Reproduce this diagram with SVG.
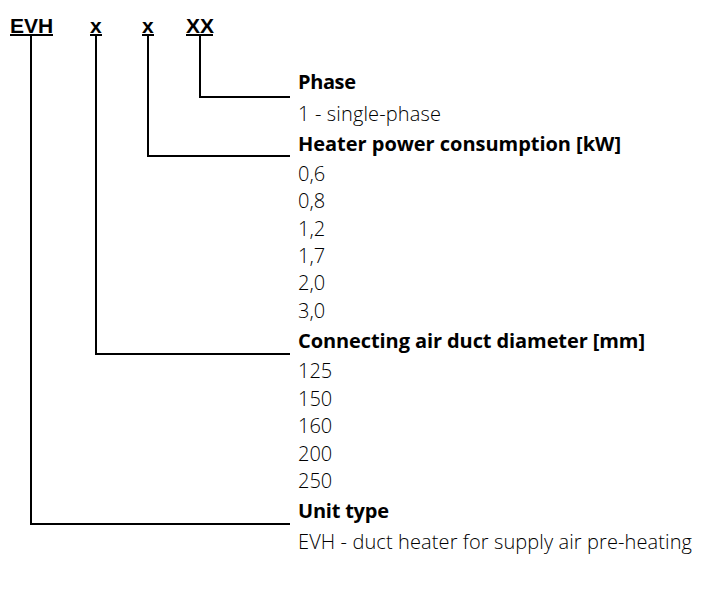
<svg xmlns="http://www.w3.org/2000/svg" width="703" height="589" viewBox="0 0 703 589">
<style>
.code{font-family:"Liberation Sans",Arial,sans-serif;font-weight:bold;font-size:21px;fill:#000}
.h{font-family:"Open Sans","Noto Sans",sans-serif;font-weight:700;font-size:20px;fill:#000}
.v{font-family:"Open Sans","Noto Sans",sans-serif;font-weight:300;font-size:20px;fill:#000}
.ln{fill:none;stroke:#000;stroke-width:2}
</style>
<rect width="703" height="589" fill="#fff"/>
<g id="code">
<text class="code" x="10" y="33">EVH</text>
<text class="code" x="90" y="33">x</text>
<text class="code" x="142" y="33">x</text>
<text class="code" x="186" y="33">XX</text>
<path class="ln" d="M10,35H53M90,35H102M142,35H154M186,35H213"/>
</g>
<g id="connectors">
<path class="ln" d="M200,35V97H290"/>
<path class="ln" d="M148,35V156H290"/>
<path class="ln" d="M96,35V354H290"/>
<path class="ln" d="M31,35V524H290"/>
</g>
<g id="phase">
<text class="h" x="298" y="89" textLength="58">Phase</text>
<text class="v" x="298" y="121" textLength="143">1 - single-phase</text>
</g>
<g id="power">
<text class="h" x="298" y="151" textLength="323">Heater power consumption [kW]</text>
<text class="v" x="298" y="181">0,6</text>
<text class="v" x="298" y="208">0,8</text>
<text class="v" x="298" y="236">1,2</text>
<text class="v" x="298" y="263">1,7</text>
<text class="v" x="298" y="290">2,0</text>
<text class="v" x="298" y="318">3,0</text>
</g>
<g id="diameter">
<text class="h" x="298" y="348" textLength="347">Connecting air duct diameter [mm]</text>
<text class="v" x="298" y="378">125</text>
<text class="v" x="298" y="406">150</text>
<text class="v" x="298" y="433">160</text>
<text class="v" x="298" y="461">200</text>
<text class="v" x="298" y="488">250</text>
</g>
<g id="unittype">
<text class="h" x="298" y="518" textLength="91">Unit type</text>
<text class="v" x="298" y="549" textLength="394">EVH - duct heater for supply air pre-heating</text>
</g>
</svg>
